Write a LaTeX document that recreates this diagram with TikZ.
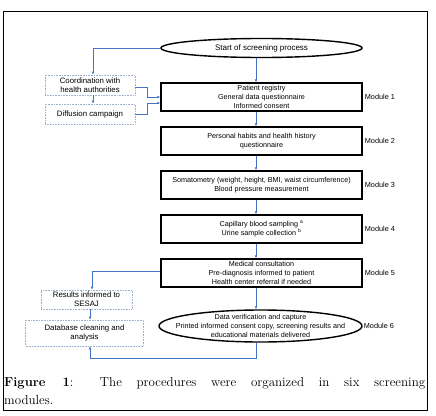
\documentclass[tikz,border=0pt]{standalone}
\usepackage{fontspec}
\setsansfont{Liberation Sans}
\usepackage{xcolor}
\usetikzlibrary{arrows.meta, positioning, shapes.geometric, calc}
\definecolor{flow}{HTML}{4472C4}
\definecolor{side}{HTML}{9DB2D2}
\tikzset{
  stage/.style={
    rectangle, draw=black, fill=white, line width=1.4pt,
    minimum width=201pt, minimum height=28pt, inner sep=0pt,
    align=center, font=\sffamily\fontsize{7.2}{8.6}\selectfont
  },
  oval/.style={
    ellipse, draw=black, fill=white, line width=1.4pt, inner sep=0pt,
    font=\sffamily\fontsize{8}{9.5}\selectfont
  },
  sidebox/.style={
    rectangle, draw=side, densely dotted, line width=0.6pt,
    inner sep=0pt, align=center, font=\sffamily\fontsize{7.8}{9.2}\selectfont
  },
  modlabel/.style={font=\sffamily\fontsize{7.3}{9}\selectfont, anchor=west, inner sep=0pt},
  arrow/.style={-{Latex[length=3pt,width=2.6pt]}, line width=0.8pt, draw=flow},
}

\begin{document}
\begin{tikzpicture}[x=1pt, y=-1pt]
  \useasboundingbox (0,0) rectangle (436,415);
  \fill[white] (0,0) rectangle (436,415);
  \draw[line width=0.8pt] (3,11) rectangle (427,410);

  % main column
  \coordinate (axis) at (256,0);
  \coordinate (leftaxis) at (93,0);
  \coordinate (lowaxis) at (90,0);
  \node[oval, minimum width=201pt, minimum height=19pt] (start) at (261.5,48) {Start of screening process};
  \node[stage] (m1) at (261.5,97) {Patient registry\\General data questionnaire\\Informed consent};
  \node[stage] (m2) at (261.5,141) {Personal habits and health history\\questionnaire};
  \node[stage] (m3) at (261.5,185) {Somatometry (weight, height, BMI, waist circumference)\\Blood pressure measurement};
  \node[stage] (m4) at (261.5,229) {Capillary blood sampling \textsuperscript{a}\\Urine sample collection \textsuperscript{b}};
  \node[stage] (m5) at (261.5,273) {Medical consultation\\Pre-diagnosis informed to patient\\Health center referral if needed};
  \node[oval, minimum width=203pt, minimum height=32pt] (m6) at (260.5,326) {};
  \node[align=center, inner sep=0pt, font=\sffamily\fontsize{7.2}{8.6}\selectfont] (m6text) at (m6.center)
    {Data verification and capture\\Printed informed consent copy, screening results and\\educational materials delivered};

  \node[modlabel, right=2pt of m1] (l1) {Module 1};
  \node[modlabel, right=2pt of m2] (l2) {Module 2};
  \node[modlabel, right=2pt of m3] (l3) {Module 3};
  \node[modlabel, right=2pt of m4] (l4) {Module 4};
  \node[modlabel, right=2pt of m5] (l5) {Module 5};
  \node[modlabel, right=1pt of m6] (l6) {Module 6};

  % side boxes
  \node[sidebox, minimum width=90pt, minimum height=20pt] (coord) at (90,85) {Coordination with\\health authorities};
  \node[sidebox, minimum width=90pt, minimum height=20pt] (diff) at (90,114) {Diffusion campaign};
  \node[sidebox, minimum width=91pt, minimum height=19pt] (res) at (86.5,299.5) {Results informed to\\SESAJ};
  \node[sidebox, minimum width=118pt, minimum height=26pt] (db) at (84.5,333) {Database cleaning and\\analysis};

  \draw[arrow] (start.south -| axis) -- (m1.north -| axis);
  \draw[arrow] (m1.south -| axis) -- (m2.north -| axis);
  \draw[arrow] (m2.south -| axis) -- (m3.north -| axis);
  \draw[arrow] (m3.south -| axis) -- (m4.north -| axis);
  \draw[arrow] (m4.south -| axis) -- (m5.north -| axis);
  \draw[arrow] (m5.south -| axis) -- (m6.north -| axis);

  \draw[arrow] (start.west) -| (coord.north -| leftaxis);
  \draw[arrow] (coord.south -| leftaxis) -- (diff.north -| leftaxis);
  \draw[arrow] ($(coord.east)+(0,2)$) -- ++(12,0) |- (m1.west);
  \draw[arrow] (diff.east) -- ++(12,0) |- ($(m1.west)+(0,6)$);

  \draw[arrow] ($(m5.west)+(0,-2)$) -| ($(res.north)+(5.5,0)$);
  \draw[arrow] (res.south -| lowaxis) -- (db.north -| lowaxis);
  \draw[arrow] (m6.south -| axis) -- ++(0,16) -| ($(db.south)+(5.5,0)$);

  % caption
  \node[anchor=north west, text width=421pt, align=justify, inner sep=0pt,
        font=\fontsize{13}{18}\selectfont] (caption) at (4,377)
    {\textbf{Figure 1}: The procedures were organized in six screening\linebreak modules.};
\end{tikzpicture}
\end{document}
